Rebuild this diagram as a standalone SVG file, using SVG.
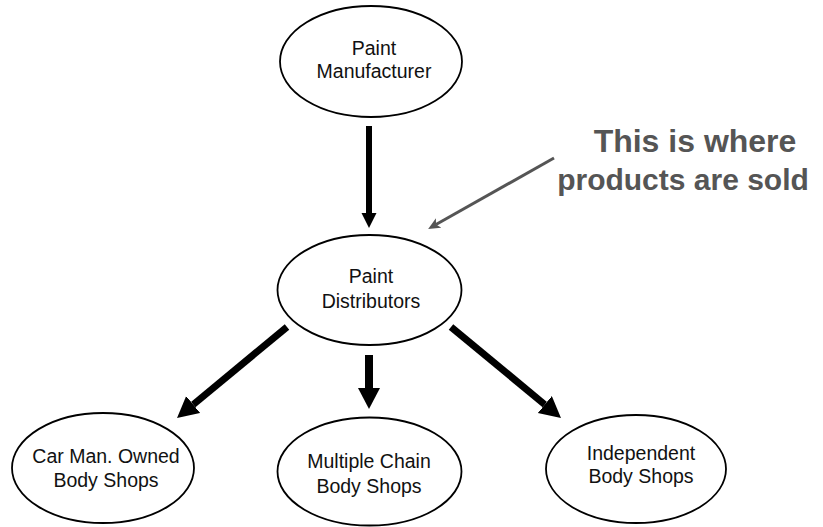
<svg xmlns="http://www.w3.org/2000/svg" width="823" height="527" viewBox="0 0 823 527">
  <style>
    .node ellipse { fill: #ffffff; stroke: #000000; stroke-width: 1.8; }
    .node text { font-family: "Liberation Sans", Arial, Helvetica, sans-serif; font-size: 19.5px; fill: #111111; text-anchor: middle; }
    .flow { stroke: #000000; fill: none; }
    .note { font-family: "Liberation Sans", Arial, Helvetica, sans-serif; font-weight: bold; fill: #555555; text-anchor: middle; }
  </style>
  <defs>
    <marker id="headSmall" markerUnits="userSpaceOnUse" markerWidth="16" markerHeight="16" refX="0" refY="7.5" orient="auto">
      <path d="M0,0 L15,7.5 L0,15 z" fill="#000000"/>
    </marker>
    <marker id="headBig" markerUnits="userSpaceOnUse" markerWidth="22" markerHeight="23" refX="0" refY="11" orient="auto">
      <path d="M0,0 L21,11 L0,22 z" fill="#000000"/>
    </marker>
    <marker id="headGray" markerUnits="userSpaceOnUse" markerWidth="13" markerHeight="12" refX="3" refY="5.5" orient="auto">
      <path d="M0,0 L12,5.5 L0,11 L3,5.5 z" fill="#555555"/>
    </marker>
  </defs>

  <rect width="823" height="527" fill="#ffffff"/>

  <!-- connectors -->
  <g id="connectors">
    <line class="flow" x1="369" y1="126" x2="369" y2="213" stroke-width="6" marker-end="url(#headSmall)"/>
    <line class="flow" x1="287" y1="327" x2="193.2" y2="404.6" stroke-width="7" marker-end="url(#headBig)"/>
    <line class="flow" x1="369" y1="355" x2="369" y2="388" stroke-width="8" marker-end="url(#headBig)"/>
    <line class="flow" x1="451" y1="327" x2="544.8" y2="404.6" stroke-width="7" marker-end="url(#headBig)"/>
    <line x1="554" y1="158" x2="436" y2="224.5" stroke="#555555" stroke-width="3" marker-end="url(#headGray)"/>
  </g>

  <!-- nodes -->
  <g id="paint-manufacturer" class="node">
    <ellipse cx="371" cy="61.5" rx="91" ry="55.5"/>
    <text x="374" y="55">Paint</text>
    <text x="374" y="78">Manufacturer</text>
  </g>

  <g id="paint-distributors" class="node">
    <ellipse cx="369.5" cy="290" rx="92" ry="55"/>
    <text x="371" y="283">Paint</text>
    <text x="371" y="308">Distributors</text>
  </g>

  <g id="car-man-owned" class="node">
    <ellipse cx="103" cy="468" rx="91" ry="55"/>
    <text x="106" y="463">Car Man. Owned</text>
    <text x="106" y="487">Body Shops</text>
  </g>

  <g id="multiple-chain" class="node">
    <ellipse cx="369.5" cy="471.5" rx="92" ry="54"/>
    <text x="369" y="468">Multiple Chain</text>
    <text x="369" y="493">Body Shops</text>
  </g>

  <g id="independent" class="node">
    <ellipse cx="636" cy="469" rx="90" ry="54"/>
    <text x="641" y="460">Independent</text>
    <text x="641" y="483">Body Shops</text>
  </g>

  <!-- annotation -->
  <g id="annotation">
    <text class="note" x="695" y="152" font-size="32">This is where</text>
    <text class="note" x="683" y="190" font-size="30">products are sold</text>
  </g>
</svg>
